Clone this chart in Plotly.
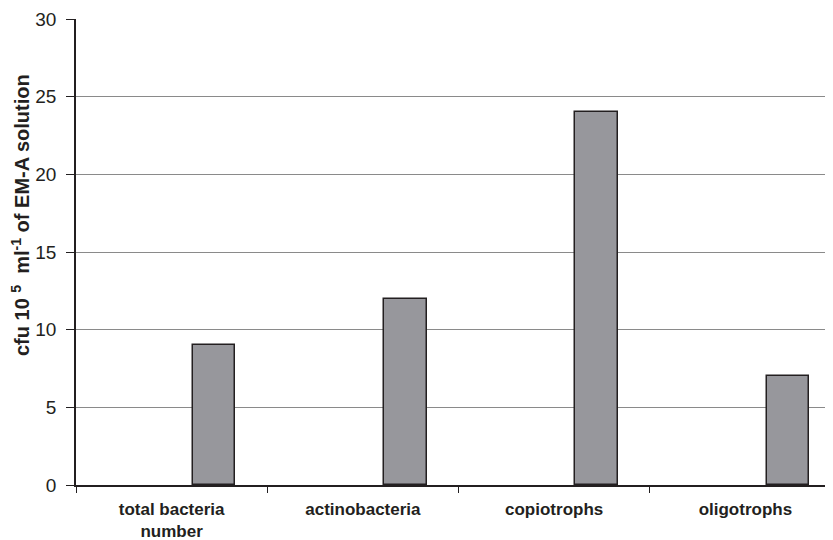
import plotly.graph_objects as go

categories = ["total bacteria<br>number", "actinobacteria", "copiotrophs", "oligotrophs"]
values = [9, 12, 24, 7]
y_ticks = [0, 5, 10, 15, 20, 25, 30]

# the page body adds an 8px offset; margins compensate for it
L, T, B, R = 68, 11, 63, 0
W, H = 833, 540
plot_w = W - L - R
plot_h = H - T - B

fig = go.Figure()
fig.add_trace(go.Bar(
    x=categories, y=values,
    width=0.222, offset=0.111,
    marker=dict(color="#97979c", line=dict(color="#231f20", width=1.5)),
    showlegend=False,
))

fig.update_layout(
    width=W, height=H,
    margin=dict(l=L, r=R, t=T, b=B, autoexpand=False),
    plot_bgcolor="white", paper_bgcolor="white",
    font=dict(family="Liberation Sans, Arial, sans-serif", color="#231f20"),
    bargap=0,
)
fig.update_xaxes(
    type="category", range=[-0.5, 3.5], automargin=False,
    tickson="boundaries", ticks="outside", ticklen=6, tickcolor="#231f20",
    showline=True, linecolor="#231f20", linewidth=1.5,
    tickfont=dict(size=17, family="Liberation Sans, Arial, sans-serif", weight="bold"),
    ticklabelstandoff=8,
    showgrid=False,
)
fig.update_yaxes(
    range=[0, 30], tickvals=y_ticks, automargin=False,
    ticks="outside", ticklen=8, tickcolor="#231f20",
    showline=True, linecolor="#231f20", linewidth=1.5,
    gridcolor="#8a8a8a", gridwidth=1,
    tickfont=dict(size=19),
    ticklabelstandoff=6,
    zeroline=False,
)
fig.add_annotation(
    text="<b>cfu 10 <sup>5</sup>  ml<sup>-1</sup> of EM-A solution</b>",
    xref="paper", yref="paper",
    x=(13 - L) / plot_w, y=(H - B - 207) / plot_h,
    textangle=-90, showarrow=False,
    xanchor="center", yanchor="middle",
    font=dict(size=20, color="#231f20"),
)

fig.write_html("out.html")
